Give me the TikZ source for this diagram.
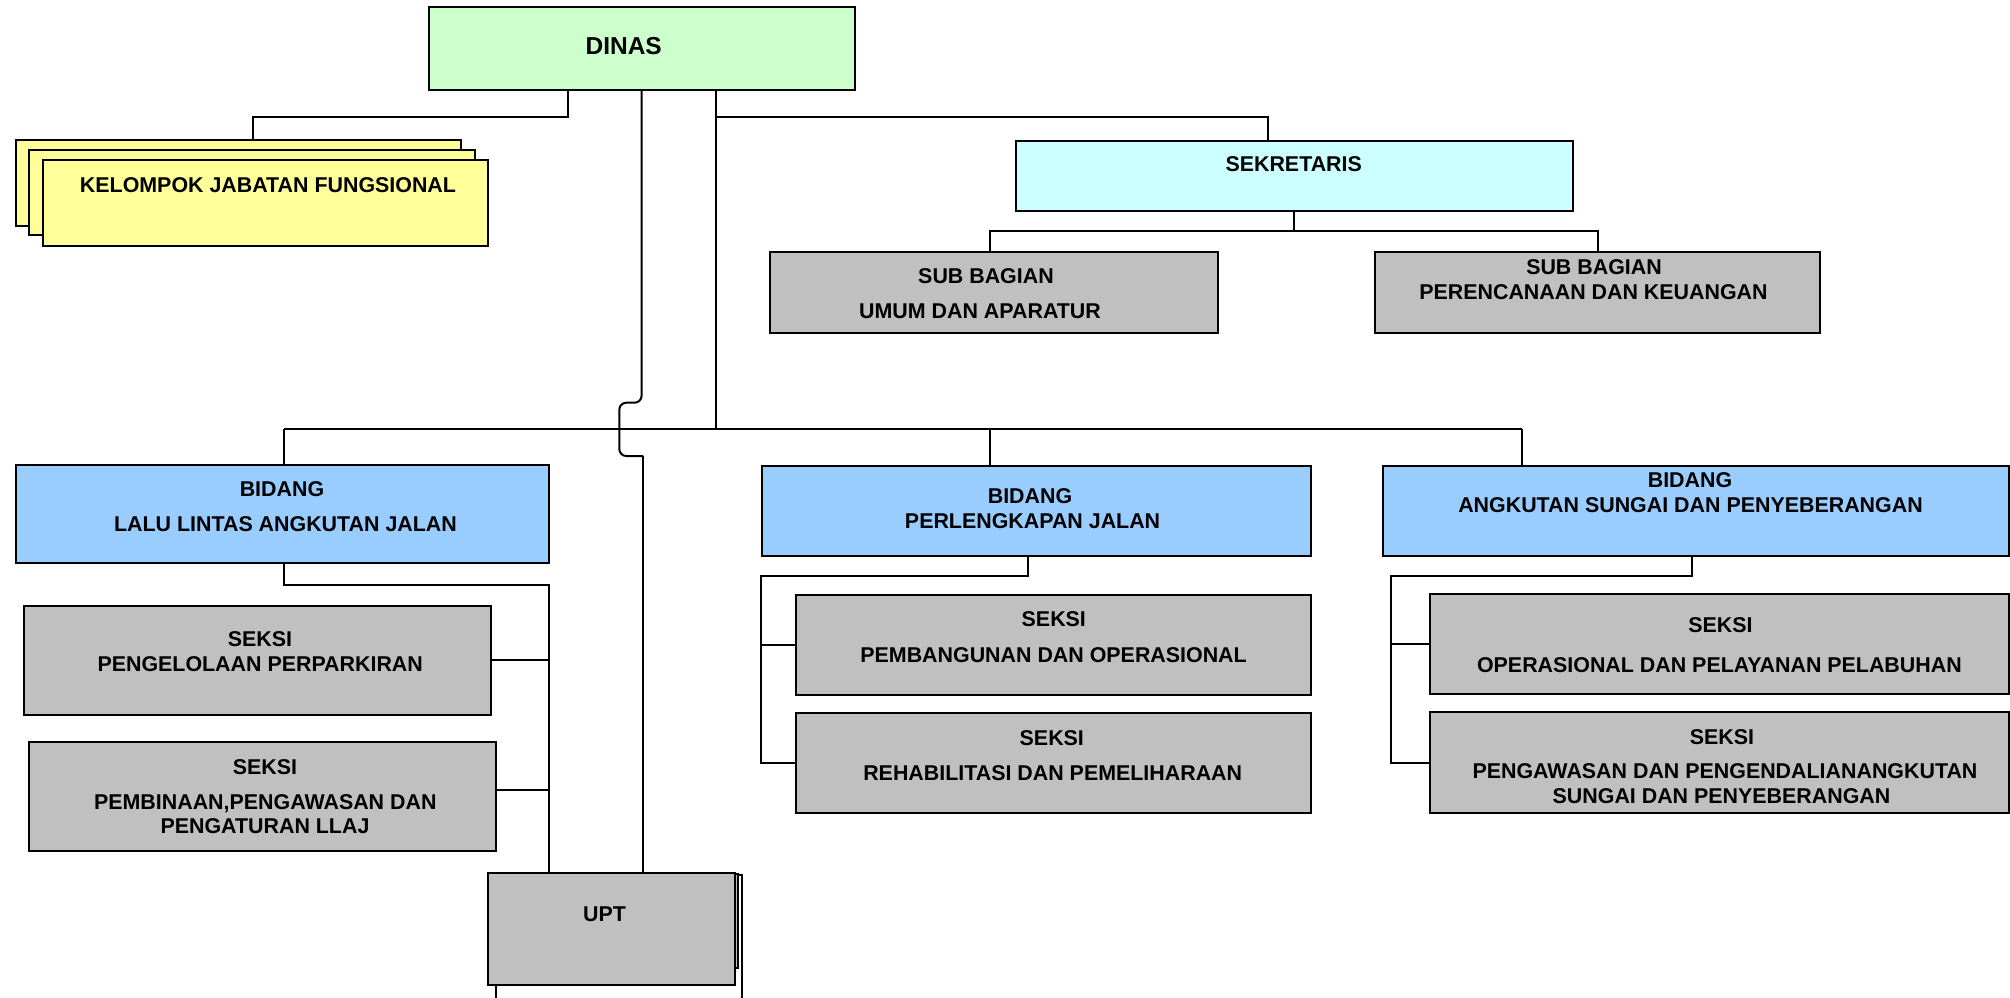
\documentclass[tikz,border=0pt]{standalone}
\usepackage{fontspec}
\setmainfont{Liberation Sans}
\usetikzlibrary{fit}
\definecolor{cgreen}{HTML}{CCFFCC}
\definecolor{cyellow}{HTML}{FFFF99}
\definecolor{ccyan}{HTML}{CCFFFF}
\definecolor{cgray}{HTML}{C0C0C0}
\definecolor{cblue}{HTML}{99CCFF}
\begin{document}
\begin{tikzpicture}[x=1pt,y=-1pt,
  box/.style={draw=black, line width=2pt, inner sep=0pt, outer sep=0pt},
  txt/.style={font=\bfseries\fontsize{21.4}{25}\selectfont, anchor=base, inner sep=0pt},
  bigtxt/.style={font=\bfseries\fontsize{24.5}{28}\selectfont, anchor=base, inner sep=0pt},
  conn/.style={draw=black, line width=2pt}]
\useasboundingbox (0,0) rectangle (2010,998);
\clip (0,0) rectangle (2010,998);
\fill[white] (0,0) rectangle (2010,998);

% boxes
\node[box, fill=cgreen, fit={(428.6,7.3) (854.6,90)}] (dinas) {};
\node[box, fill=cyellow, fit={(16,140) (460.5,225.7)}] (kjf1) {};
\node[box, fill=cyellow, fit={(29.3,150) (474.5,235.3)}] (kjf2) {};
\node[box, fill=cyellow, fit={(42.7,159.7) (488,245.7)}] (kjf3) {};
\node[box, fill=ccyan, fit={(1015.5,140.7) (1572.6,211)}] (sek) {};
\node[box, fill=cgray, fit={(770.4,251.7) (1217.7,332.7)}] (sbu) {};
\node[box, fill=cgray, fit={(1375,251.7) (1820,332.7)}] (sbr) {};
\node[box, fill=cblue, fit={(15.8,464.7) (548.5,562.9)}] (bllaj) {};
\node[box, fill=cblue, fit={(761.6,466) (1310.7,556)}] (bpj) {};
\node[box, fill=cblue, fit={(1382.8,466) (2008.5,555.7)}] (basdp) {};
\node[box, fill=cgray, fit={(24,605.9) (490.8,715.4)}] (s1) {};
\node[box, fill=cgray, fit={(29,741.5) (496.4,851.4)}] (s2) {};
\node[box, fill=cgray, fit={(796,595) (1310.7,695)}] (s3) {};
\node[box, fill=cgray, fit={(796,713.3) (1310.7,813.3)}] (s4) {};
\node[box, fill=cgray, fit={(1430,594.3) (2008.5,694.3)}] (s5) {};
\node[box, fill=cgray, fit={(1430,712.3) (2008.5,812.7)}] (s6) {};
\node[box, fill=white, fit={(495.7,875) (742.3,1010)}] (upt3) {};
\node[box, fill=cgray, fit={(490.5,874) (737.7,968)}] (upt2) {};
\node[box, fill=cgray, fit={(487.7,873.3) (734.7,985)}] (upt) {};

% texts
\node[bigtxt] (tdinas) at (623.7,54.5) {DINAS};
\node[txt] (tkjf) at (268,192.5) {KELOMPOK JABATAN FUNGSIONAL};
\node[txt] (tsek) at (1293.7,171.5) {SEKRETARIS};
\node[txt] (tsbu1) at (986,283.5) {SUB BAGIAN};
\node[txt] (tsbu2) at (980,318.2) {UMUM DAN APARATUR};
\node[txt] (tsbr1) at (1594,274.2) {SUB BAGIAN};
\node[txt] (tsbr2) at (1593.5,299.5) {PERENCANAAN DAN KEUANGAN};
\node[txt] (tbl1) at (282,496.3) {BIDANG};
\node[txt] (tbl2) at (285.5,531.4) {LALU LINTAS ANGKUTAN JALAN};
\node[txt] (tbp1) at (1030,503.5) {BIDANG};
\node[txt] (tbp2) at (1032.6,528.2) {PERLENGKAPAN JALAN};
\node[txt] (tba1) at (1690,487.5) {BIDANG};
\node[txt] (tba2) at (1690.5,512.5) {ANGKUTAN SUNGAI DAN PENYEBERANGAN};
\node[txt] (ts1a) at (260,646.5) {SEKSI};
\node[txt] (ts1b) at (260.2,671.3) {PENGELOLAAN PERPARKIRAN};
\node[txt] (ts2a) at (265,774.5) {SEKSI};
\node[txt] (ts2b) at (265.3,809.3) {PEMBINAAN,PENGAWASAN DAN};
\node[txt] (ts2c) at (265,833.7) {PENGATURAN LLAJ};
\node[txt] (ts3a) at (1053.8,626.5) {SEKSI};
\node[txt] (ts3b) at (1053.6,662.5) {PEMBANGUNAN DAN OPERASIONAL};
\node[txt] (ts4a) at (1051.8,745.2) {SEKSI};
\node[txt] (ts4b) at (1052.7,780.8) {REHABILITASI DAN PEMELIHARAAN};
\node[txt] (ts5a) at (1720.4,632.5) {SEKSI};
\node[txt] (ts5b) at (1719.4,672.5) {OPERASIONAL DAN PELAYANAN PELABUHAN};
\node[txt] (ts6a) at (1722,744.2) {SEKSI};
\node[txt] (ts6b) at (1725,778.2) {PENGAWASAN DAN PENGENDALIANANGKUTAN};
\node[txt] (ts6c) at (1721.5,803.5) {SUNGAI DAN PENYEBERANGAN};
\node[txt] (tupt) at (604.5,921.5) {UPT};

% junction coordinates
\coordinate (ja) at (567.6,116.7);
\coordinate (jb) at (253,116.7);
\coordinate (v2) at (715.6,116.7);
\coordinate (sk) at (1268,116.7);
\coordinate (sbl) at (990,231);
\coordinate (sbrr) at (1598.4,231);
\coordinate (bl) at (284,428.9);
\coordinate (bm) at (990.2,428.9);
\coordinate (br) at (1521.7,428.9);
\coordinate (jt) at (641.6,402.7);
\coordinate (jm) at (619.3,429);
\coordinate (jbt) at (643.3,456);
\coordinate (L1) at (284,585.4);
\coordinate (L2) at (548.5,585.4);
\coordinate (L3) at (548.5,659.9);
\coordinate (L4) at (548.5,790);
\coordinate (P1) at (1028,576);
\coordinate (P2) at (761.2,576);
\coordinate (A1) at (1691.7,576);
\coordinate (A2) at (1390.8,576);

% connectors
\draw[conn] (dinas.south -| ja) -- (ja) -- (jb) -- (kjf1.north -| jb);
\draw[conn] (dinas.south -| v2) -- (v2 |- bl);
\draw[conn] (v2) -- (sk) -- (sek.north -| sk);
\draw[conn] (sek.south) -- (sek.south |- sbl);
\draw[conn] (sbu.north -| sbl) -- (sbl) -- (sbrr) -- (sbr.north -| sbrr);
\draw[conn] (bl) -- (br);
\draw[conn] (bl) -- (bllaj.north -| bl);
\draw[conn] (bm) -- (bpj.north -| bm);
\draw[conn] (br) -- (basdp.north -| br);
\draw[conn, rounded corners=7pt] (dinas.south) -- (jt) -| (jm) |- (jbt);
\draw[conn] (jbt) -- (upt.north -| jbt);
\draw[conn] (bllaj.south -| L1) -- (L1) -- (L2) -- (upt.north -| L2);
\draw[conn] (s1.east |- L3) -- (L3);
\draw[conn] (s2.east |- L4) -- (L4);
\draw[conn] (bpj.south -| P1) -- (P1) -- (P2) |- (s4.west);
\draw[conn] (P2 |- s3.west) -- (s3.west);
\draw[conn] (basdp.south -| A1) -- (A1) -- (A2) |- (s6.west);
\draw[conn] (A2 |- s5.west) -- (s5.west);
\end{tikzpicture}
\end{document}
